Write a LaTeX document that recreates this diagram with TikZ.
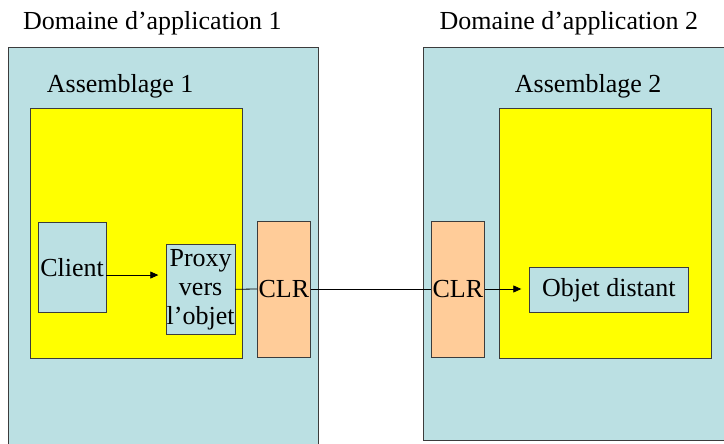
\documentclass[tikz,border=0pt]{standalone}
\usepackage{fontspec}
\setmainfont{Liberation Serif}
\usetikzlibrary{arrows.meta}
\definecolor{dombg}{HTML}{BBE0E3}
\definecolor{clrbg}{HTML}{FFCC99}
\definecolor{asmbg}{HTML}{FFFF00}
\definecolor{edgec}{HTML}{3C3C3C}
\begin{document}
\begin{tikzpicture}[x=1pt,y=-1pt,
  font=\fontsize{26}{29}\selectfont,
  basebox/.style={draw=edgec, line width=1pt, inner sep=0pt, outer sep=0pt, anchor=north west},
  dombox/.style={basebox, fill=dombg},
  asmbox/.style={basebox, fill=asmbg},
  compbox/.style={basebox, fill=dombg},
  clrbox/.style={basebox, fill=clrbg},
  lbltext/.style={inner sep=0pt, anchor=base west},
  connline/.style={draw=black, line width=0.8pt},
  arrline/.style={connline, -{Triangle[length=8pt,width=7pt]}}]
\useasboundingbox (0,0) rectangle (724,444);
\clip (0,0) rectangle (724,444);
% domains
\node[dombox, minimum width=310pt, minimum height=410pt] (dom1) at (8,47.7) {};
\node[dombox, minimum width=310pt, minimum height=392pt] (dom2) at (423.3,48) {};
\node[lbltext] (t1) at (23,29.3) {Domaine d’application 1};
\node[lbltext] (t2) at (439.3,29.3) {Domaine d’application 2};
% assemblies
\node[lbltext] (a1) at (46.7,92.7) {Assemblage 1};
\node[lbltext] (a2) at (514.7,92.7) {Assemblage 2};
\node[asmbox, minimum width=211.6pt, minimum height=249.7pt] (asm1) at (30.7,108.3) {};
\node[asmbox, minimum width=212.3pt, minimum height=249.7pt] (asm2) at (499,108.3) {};
% components
\node[compbox, minimum width=68.3pt, minimum height=90.7pt] (client) at (38,222) {Client};
\node[compbox, minimum width=68.7pt, minimum height=90pt, align=center] (proxy) at (166.3,244.3) {Proxy\\vers\\l’objet};
\node[clrbox, minimum width=53.7pt, minimum height=136pt] (clr1) at (257,221) {CLR};
\node[clrbox, minimum width=53.7pt, minimum height=136pt] (clr2) at (431,221) {CLR};
\node[compbox, minimum width=159.7pt, minimum height=45.4pt] (objet) at (529,267.3) {Objet distant};
% connectors
\coordinate (cs) at ([yshift=-7.7pt]client.east);
\draw[arrline, shorten >=8pt] (cs) -- (cs -| proxy.west);
\draw[connline] (proxy.east) -- (clr1.west);
\draw[connline] (clr1.east) -- (clr2.west);
\draw[arrline, shorten >=7.7pt] (clr2.east) -- (clr2.east -| objet.west);
\end{tikzpicture}
\end{document}
